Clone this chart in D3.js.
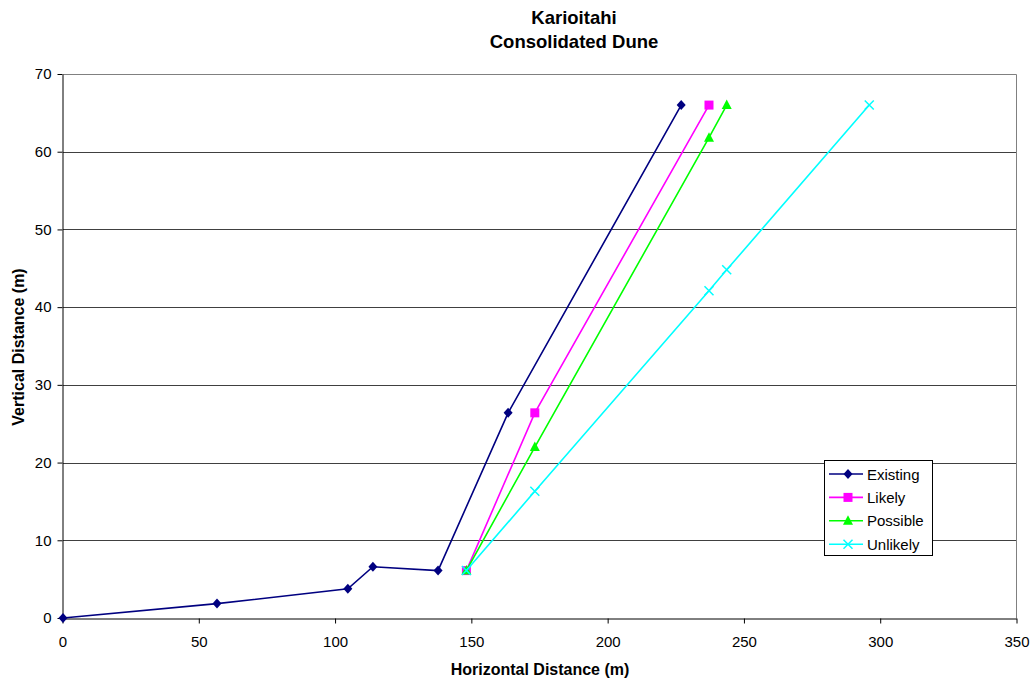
<!DOCTYPE html>
<html>
<head>
<meta charset="utf-8">
<script src="https://cdn.jsdelivr.net/npm/d3@7"></script>
<style>
  body { margin: 0; background: #fff; }
  svg { display: block; font-family: "Liberation Sans", Arial, sans-serif; }
</style>
</head>
<body>
<svg id="chart" width="1036" height="681"></svg>
<script>
// Dune profile series: horizontal distance (m) vs vertical distance (m)
const existingX = [0, 56.5, 104.5, 113.7, 137.6, 163.3, 226.8];
const existingY = [0, 1.85, 3.75, 6.6, 6.1, 26.4, 66];
const likelyX = [148, 173.1, 237];
const likelyY = [6.1, 26.4, 66];
const possibleX = [148, 173.1, 237, 243.5];
const possibleY = [6.1, 22, 61.8, 66];
const unlikelyX = [148, 173.1, 237, 243.5, 295.8];
const unlikelyY = [6.1, 16.3, 42.1, 44.8, 66];

const xTicks = [0, 50, 100, 150, 200, 250, 300, 350];
const yTicks = [0, 10, 20, 30, 40, 50, 60, 70];

const titleLines = ["Karioitahi", "Consolidated Dune"];
const xTitle = "Horizontal Distance (m)";
const yTitle = "Vertical Distance (m)";

const series = [
  { name: "Existing", xs: existingX, ys: existingY, color: "#000080", marker: "diamond" },
  { name: "Likely", xs: likelyX, ys: likelyY, color: "#ff00ff", marker: "square" },
  { name: "Possible", xs: possibleX, ys: possibleY, color: "#00ff00", marker: "triangle" },
  { name: "Unlikely", xs: unlikelyX, ys: unlikelyY, color: "#00ffff", marker: "cross" }
];

const FONT = "Liberation Sans, Arial, sans-serif";
const svg = d3.select("#chart");
const plot = { left: 63, right: 1017, top: 74, bottom: 618 };

const x = d3.scaleLinear().domain([0, 350]).range([plot.left, plot.right]);
const y = d3.scaleLinear().domain([0, 70]).range([plot.bottom, plot.top]);

// Horizontal gridlines
svg.append("g")
  .selectAll("line")
  .data(yTicks.filter(d => d > 0 && d < 70))
  .join("line")
  .attr("x1", plot.left).attr("x2", plot.right)
  .attr("y1", d => Math.round(y(d)) + 0.5).attr("y2", d => Math.round(y(d)) + 0.5)
  .attr("stroke", "#404040").attr("stroke-width", 1);

// Plot frame (top and right in gray)
svg.append("path")
  .attr("d", `M${plot.left},${plot.top + 0.5}H${plot.right - 0.5}V${plot.bottom}`)
  .attr("fill", "none").attr("stroke", "#808080").attr("stroke-width", 1);

// Axes
const xAxis = d3.axisBottom(x).tickValues(xTicks).tickSize(5).tickSizeOuter(0).tickPadding(13);
const gx = svg.append("g").attr("transform", `translate(-0.5,${plot.bottom + 0.5})`).call(xAxis);
gx.selectAll("text").attr("font-size", 15).attr("fill", "#000").attr("font-family", FONT);
gx.selectAll("line, path").attr("stroke", "#000");

const yAxis = d3.axisLeft(y).tickValues(yTicks).tickSize(5).tickSizeOuter(0).tickPadding(6);
const gy = svg.append("g").attr("transform", `translate(${plot.left - 0.5},0)`).call(yAxis);
gy.selectAll("text").attr("font-size", 15).attr("fill", "#000").attr("font-family", FONT);
gy.selectAll("line, path").attr("stroke", "#000");

// Marker symbols
function drawMarker(g, type, cx, cy, color) {
  if (type === "diamond") {
    g.append("path").attr("d", `M${cx},${cy - 5}L${cx + 4.5},${cy}L${cx},${cy + 5}L${cx - 4.5},${cy}Z`).attr("fill", color);
  } else if (type === "square") {
    g.append("rect").attr("x", cx - 4.5).attr("y", cy - 4.5).attr("width", 9).attr("height", 9).attr("fill", color);
  } else if (type === "triangle") {
    g.append("path").attr("d", `M${cx},${cy - 5.5}L${cx + 5},${cy + 4}L${cx - 5},${cy + 4}Z`).attr("fill", color);
  } else if (type === "cross") {
    g.append("path").attr("d", `M${cx - 4.5},${cy - 4.5}L${cx + 4.5},${cy + 4.5}M${cx + 4.5},${cy - 4.5}L${cx - 4.5},${cy + 4.5}`)
      .attr("stroke", color).attr("stroke-width", 1.5).attr("fill", "none");
  }
}

const line = d3.line().x(d => x(d[0])).y(d => y(d[1]));

series.forEach(s => {
  const pts = s.xs.map((v, i) => [v, s.ys[i]]);
  const g = svg.append("g");
  g.append("path").datum(pts).attr("d", line)
    .attr("fill", "none").attr("stroke", s.color).attr("stroke-width", 1.6);
  pts.forEach(p => drawMarker(g, s.marker, x(p[0]), y(p[1]), s.color));
});

// Titles
svg.append("text").attr("x", 574).attr("y", 23.5).attr("text-anchor", "middle")
  .attr("font-size", 18.5).attr("font-weight", "bold").text(titleLines[0]);
svg.append("text").attr("x", 574).attr("y", 47.5).attr("text-anchor", "middle")
  .attr("font-size", 18.5).attr("font-weight", "bold").text(titleLines[1]);

svg.append("text").attr("x", (plot.left + plot.right) / 2).attr("y", 675).attr("text-anchor", "middle")
  .attr("font-size", 16).attr("font-weight", "bold").text(xTitle);
svg.append("text").attr("transform", `translate(24,${(plot.top + plot.bottom) / 2 + 1}) rotate(-90)`)
  .attr("text-anchor", "middle").attr("font-size", 16).attr("font-weight", "bold").text(yTitle);

// Legend
const legend = svg.append("g").attr("transform", "translate(824.5,460.5)");
legend.append("rect").attr("width", 108).attr("height", 95)
  .attr("fill", "#fff").attr("stroke", "#000").attr("stroke-width", 1);
series.forEach((s, i) => {
  const ly = 13.5 + i * 23.4;
  legend.append("line").attr("x1", 4.5).attr("x2", 38.5).attr("y1", ly).attr("y2", ly)
    .attr("stroke", s.color).attr("stroke-width", 1.6);
  drawMarker(legend, s.marker, 23.5, ly, s.color);
  legend.append("text").attr("x", 42.5).attr("y", ly + 5.5).attr("font-size", 15)
    .attr("font-family", FONT).text(s.name);
});
</script>
</body>
</html>
